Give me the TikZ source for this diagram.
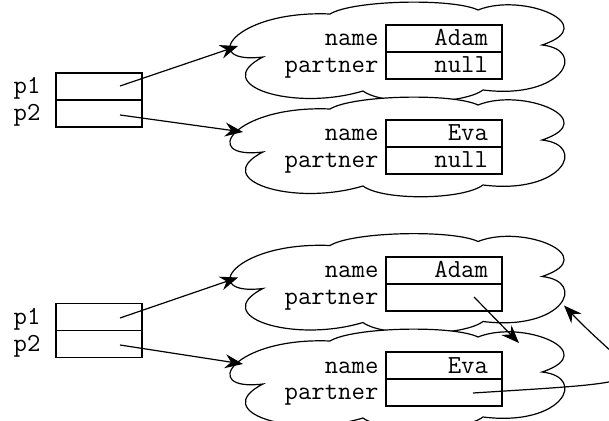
\documentclass[tikz,border=0pt]{standalone}
\usetikzlibrary{arrows.meta}
\tikzset{
  puffy/.pic={
    \draw[fill=white] (-140,7) .. controls (-205,15) and (-170,-40) .. (-73,-36)
      .. controls (-50,-50) and (50,-52) .. (75,-40)
      .. controls (120,-58) and (200,-25) .. (139,-5)
      .. controls (185,0) and (160,50) .. (80,40)
      .. controls (60,55) and (-20,56) .. (-40,41)
      .. controls (-110,62) and (-195,35) .. cycle;
    \coordinate (-w) at (-165,-4);
    \coordinate (-nw) at (-160,-13);
    \coordinate (-ne) at (116,-34);
    \coordinate (-se) at (161,24);
  }
}
\begin{document}
\begin{tikzpicture}[x=0.5pt,y=-0.5pt,line width=0.6pt,
  font=\fontsize{13}{15}\ttfamily,
  slot/.style={draw, outer sep=0pt, minimum width=43pt, minimum height=13.5pt, inner sep=0pt},
  field/.style={draw, outer sep=0pt, text width=44pt, align=right, inner xsep=7pt,
    inner ysep=1.75pt, text height=8.75pt, text depth=1.25pt},
  lbl/.style={anchor=east, inner xsep=3.5pt, inner ysep=1.75pt, text height=8.75pt, text depth=1.25pt},
  ptr/.style={-{Stealth[length=9pt,width=7pt,inset=3pt]}}]
\useasboundingbox (0,0) rectangle (609,421);
\clip (0,0) rectangle (609,421);
\pic (adamA) at (403,50) {puffy};
\pic (evaA) at (403,145) {puffy};
\node[slot] (p1a) at (99,86.5){};
\node[slot] (p2a) at (99,113.5){};
\node[lbl] (lp1a) at (48,86.5){p1};
\node[lbl] (lp2a) at (48,113.5){p2};
\node[field] (adamAname) at (444,38.5){Adam};
\node[field] (adamApart) at (444,65.5){null};
\node[lbl] (ladamAname) at (adamAname.west){name};
\node[lbl] (ladamApart) at (adamApart.west){partner};
\node[field] (evaAname) at (444,133.5){Eva};
\node[field] (evaApart) at (444,160.5){null};
\node[lbl] (levaAname) at (evaAname.west){name};
\node[lbl] (levaApart) at (evaApart.west){partner};
\coordinate (s1a) at (120,86);
\coordinate (s2a) at (120,115);
\draw[ptr](s1a) -- (adamA-w);
\draw[ptr](s2a) -- (evaA-nw);
\pic (adamB) at (403,281.5) {puffy};
\pic (evaB) at (403,377) {puffy};
\node[slot] (p1b) at (99,317){};
\node[slot] (p2b) at (99,344){};
\node[lbl] (lp1b) at (48,317){p1};
\node[lbl] (lp2b) at (48,344){p2};
\node[field] (adamBname) at (444,270.5){Adam};
\node[field] (adamBpart) at (444,297.5){};
\node[lbl] (ladamBname) at (adamBname.west){name};
\node[lbl] (ladamBpart) at (adamBpart.west){partner};
\node[field] (evaBname) at (444,365.5){Eva};
\node[field] (evaBpart) at (444,392.5){};
\node[lbl] (levaBname) at (evaBname.west){name};
\node[lbl] (levaBpart) at (evaBpart.west){partner};
\coordinate (s1b) at (120,318);
\coordinate (s2b) at (120,345);
\coordinate (sadam) at (474,297);
\coordinate (seva) at (473,393);
\draw[ptr](s1b) -- (adamB-w);
\draw[ptr](s2b) -- (evaB-nw);
\draw[ptr](sadam) -- (evaB-ne);
\draw[ptr](seva) .. controls (680,380) and (640,385) .. (adamB-se);
\end{tikzpicture}
\end{document}
